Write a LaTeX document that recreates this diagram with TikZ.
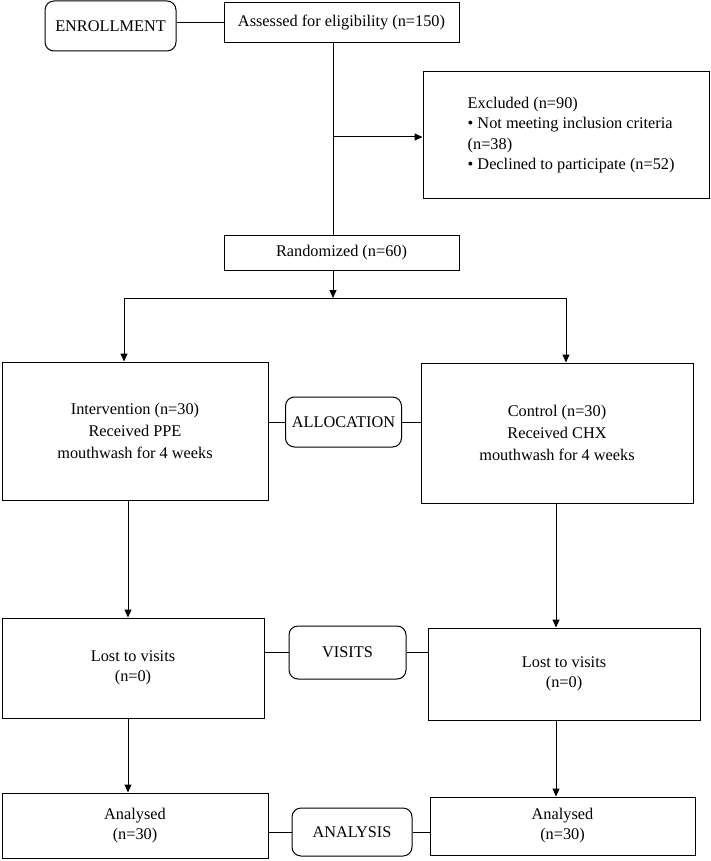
\documentclass[tikz,border=0pt]{standalone}
\usepackage{fontspec}
\setmainfont{Liberation Serif}
\usetikzlibrary{arrows.meta}
\begin{document}
\begin{tikzpicture}[x=1pt,y=-1pt,
  box/.style={draw, line width=1pt, inner sep=0pt, align=center},
  rbox/.style={draw, rounded corners=9pt, line width=1pt, inner sep=0pt, align=center},
  arr/.style={-{Triangle[length=8pt,width=7pt]}, line width=1pt},
  ln/.style={line width=1pt},
  font=\fontsize{16.3}{20}\selectfont]
\useasboundingbox (0,0) rectangle (710,861);

% nodes
\node[rbox, minimum width=131pt, minimum height=50pt] (enroll) at (110.5,26) {ENROLLMENT};
\node[box, minimum width=235pt, minimum height=40pt] (assess) at (341.5,23) {Assessed for eligibility (n=150)};
\node[box, minimum width=286pt, minimum height=126pt] (excl) at (566,135) {};
\node[anchor=west, align=left, inner sep=0pt, font=\fontsize{16.3}{20.5}\selectfont] (excltxt) at ([xshift=45pt]excl.west) {Excluded (n=90)\\ • Not meeting inclusion criteria\\ (n=38)\\ • Declined to participate (n=52)};
\node[box, minimum width=235pt, minimum height=35pt] (rand) at (341.5,253) {Randomized (n=60)};

\node[box, minimum width=266pt, minimum height=138pt, font=\fontsize{16.3}{22}\selectfont] (interv) at (135,431) {Intervention (n=30)\\ Received PPE\\ mouthwash for 4 weeks};
\node[rbox, minimum width=116pt, minimum height=50pt] (alloc) at (343.5,422) {ALLOCATION};
\node[box, minimum width=272pt, minimum height=140pt, font=\fontsize{16.3}{22}\selectfont] (ctrl) at (557,433) {Control (n=30)\\ Received CHX\\ mouthwash for 4 weeks};

\node[box, minimum width=262pt, minimum height=100pt] (lost1) at (133,668) {Lost to visits\\ (n=0)};
\node[rbox, minimum width=117pt, minimum height=53pt] (visits) at (347.5,652.5) {VISITS};
\node[box, minimum width=272pt, minimum height=92pt] (lost2) at (564,674) {Lost to visits\\ (n=0)};

\node[box, minimum width=266pt, minimum height=65pt] (anal1) at (135,825.5) {Analysed\\ (n=30)};
\node[rbox, minimum width=120pt, minimum height=48pt] (analysis) at (352,832) {ANALYSIS};
\node[box, minimum width=265pt, minimum height=58pt] (anal2) at (562.5,826) {Analysed\\ (n=30)};

% helper coordinates
\coordinate (c1) at (333,137);
\coordinate (split) at (333,298);
\coordinate (lx) at (124,298);
\coordinate (rx) at (566,298);
\coordinate (dl) at (128,0);
\coordinate (dr) at (556,0);

% connectors
\draw[ln] (assess.west) -- (assess.west -| enroll.east);
\draw[ln] (c1 |- assess.south) -- (c1 |- rand.north);
\draw[arr] (c1) -- (c1 -| excl.west);
\draw[arr] (c1 |- rand.south) -- (split);
\draw[ln] (lx) -- (rx);
\draw[arr] (lx) -- (lx |- interv.north);
\draw[arr] (rx) -- (rx |- ctrl.north);

\draw[ln] (interv.east |- alloc.west) -- (alloc.west);
\draw[ln] (alloc.east) -- (alloc.east -| ctrl.west);

\draw[arr] (dl |- interv.south) -- (dl |- lost1.north);
\draw[arr] (dr |- ctrl.south) -- (dr |- lost2.north);

\draw[ln] (lost1.east |- visits.west) -- (visits.west);
\draw[ln] (visits.east) -- (visits.east -| lost2.west);

\draw[arr] (dl |- lost1.south) -- (dl |- anal1.north);
\draw[arr] (dr |- lost2.south) -- (dr |- anal2.north);

\draw[ln] (anal1.east |- analysis.west) -- (analysis.west);
\draw[ln] (analysis.east) -- (analysis.east -| anal2.west);
\end{tikzpicture}
\end{document}
